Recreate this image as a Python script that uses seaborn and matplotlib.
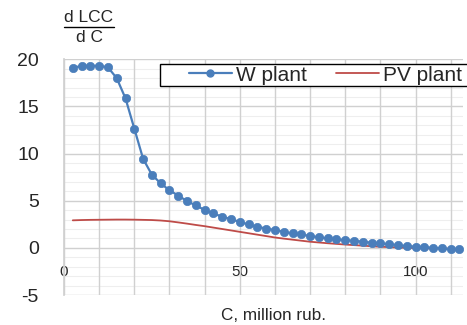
import numpy as np
import pandas as pd
import matplotlib
matplotlib.use("Agg")
import matplotlib.pyplot as plt
import seaborn as sns
from matplotlib.patches import Rectangle
from matplotlib.lines import Line2D

# ---- data ----
c_w = [2.5, 5, 7.5, 10, 12.5, 15, 17.5, 20, 22.5, 25, 27.5, 30, 32.5, 35, 37.5,
       40, 42.5, 45, 47.5, 50, 52.5, 55, 57.5, 60, 62.5, 65, 67.5, 70, 72.5, 75,
       77.5, 80, 82.5, 85, 87.5, 90, 92.5, 95, 97.5, 100, 102.5, 105, 107.5, 110, 112.5]
w_plant = [19.1, 19.3, 19.3, 19.3, 19.15, 18.0, 15.85, 12.65, 9.45, 7.75, 6.85, 6.1, 5.55, 4.95, 4.5,
           4.02, 3.65, 3.3, 3.05, 2.75, 2.48, 2.24, 2.05, 1.88, 1.7, 1.53, 1.42, 1.25, 1.13, 1.0,
           0.9, 0.82, 0.75, 0.65, 0.55, 0.47, 0.4, 0.29, 0.19, 0.12, 0.07, 0.0, -0.06, -0.16, -0.16]

c_pv = [2.5, 5, 7.5, 10, 12.5, 15, 17.5, 20, 22.5, 25, 27.5, 30, 32.5, 35, 37.5,
        40, 42.5, 45, 47.5, 50, 52.5, 55, 57.5, 60, 62.5, 65, 67.5, 70, 72.5, 75,
        77.5, 80, 82.5, 85, 87.5, 90, 92.5, 95, 97.5, 100, 102.5, 105, 107.5, 110]
pv_plant = [2.92, 2.95, 2.97, 2.98, 2.99, 3.0, 3.0, 2.99, 2.97, 2.95, 2.9, 2.82, 2.7, 2.57, 2.43,
            2.3, 2.15, 2.0, 1.85, 1.7, 1.55, 1.4, 1.25, 1.1, 0.98, 0.87, 0.76, 0.65, 0.57, 0.49,
            0.42, 0.35, 0.29, 0.23, 0.17, 0.12, 0.08, 0.04, 0.01, -0.02, -0.04, -0.06, -0.07, -0.08]

y_ticks = [-5, 0, 5, 10, 15, 20]
x_ticks = [0, 50, 100]
series_names = ["W plant", "PV plant"]

BLUE = "#4a7ebb"
RED = "#be4b48"

sns.set_theme(style="white")
plt.rcParams['font.family'] = ['Liberation Sans', 'DejaVu Sans']

W, H = 467, 325
fig = plt.figure(figsize=(W / 100, H / 100), dpi=100)
ax = fig.add_axes([64 / W, 1 - 295 / H, (463 - 64) / W, (295 - 59.3) / H])

df_w = pd.DataFrame({"C": c_w, "v": w_plant})
df_pv = pd.DataFrame({"C": c_pv, "v": pv_plant})

sns.lineplot(data=df_pv, x="C", y="v", ax=ax, color=RED, linewidth=1.3, zorder=3)
sns.lineplot(data=df_w, x="C", y="v", ax=ax, color=BLUE, linewidth=1.6,
             marker="o", markersize=6, markeredgecolor=BLUE, markeredgewidth=0.5, zorder=4)

ax.set_xlim(0, 113.5)
ax.set_ylim(-5, 20)

# grid
ax.grid(False)
for xv in np.arange(0, 111, 10):
    ax.axvline(xv, color="#d0d0d0", linewidth=1.0, zorder=1)
for yv in np.arange(-5, 21, 1):
    if yv % 5 == 0:
        ax.axhline(yv, color="#d0d0d0", linewidth=1.0, zorder=1)
    else:
        ax.axhline(yv, color="#eeeeee", linewidth=0.8, zorder=0.5)

ax.set_yticks(y_ticks)
ax.set_yticklabels([str(v) for v in y_ticks], fontsize=14)
ax.set_xticks(x_ticks)
ax.set_xticklabels([str(v) for v in x_ticks], fontsize=14)
ax.tick_params(axis="y", length=0, pad=18)
ax.tick_params(axis="x", length=0, pad=12)
ax.spines["bottom"].set_position(("data", 0))
for s in ["top", "right", "bottom"]:
    ax.spines[s].set_visible(False)
ax.spines["left"].set_color("#d0d0d0")
ax.set_xlabel("")
ax.set_ylabel("")

# x label
fig.text(273.5 / W, 1 - 315 / H, "C, million rub.", ha="center", va="center", fontsize=12.3)

# y label as fraction
fig.text(89 / W, 1 - 18 / H, "d LCC", ha="center", va="center", fontsize=12.5)
fig.text(89 / W, 1 - 37 / H, "d C", ha="center", va="center", fontsize=12.5)
fig.add_artist(Line2D([64 / W, 114 / W], [1 - 26.5 / H, 1 - 26.5 / H], color="black", linewidth=1.0))

# legend
fig.add_artist(Rectangle((160 / W, 1 - 86 / H), (470 - 160) / W, 22 / H,
                         transform=fig.transFigure, facecolor="white",
                         edgecolor="black", linewidth=1.0, zorder=5))
handles = [Line2D([], [], color=BLUE, linewidth=1.6, marker="o", markersize=5),
           Line2D([], [], color=RED, linewidth=1.3)]
leg = fig.legend(handles, series_names, loc="center left",
                 bbox_to_anchor=(189 / W, 1 - 75 / H), ncol=2, frameon=False,
                 fontsize=15, handlelength=2.05, handletextpad=0.2,
                 columnspacing=1.4, borderpad=0, borderaxespad=0)
leg.set_zorder(6)

fig.savefig("out.png", dpi=100)
